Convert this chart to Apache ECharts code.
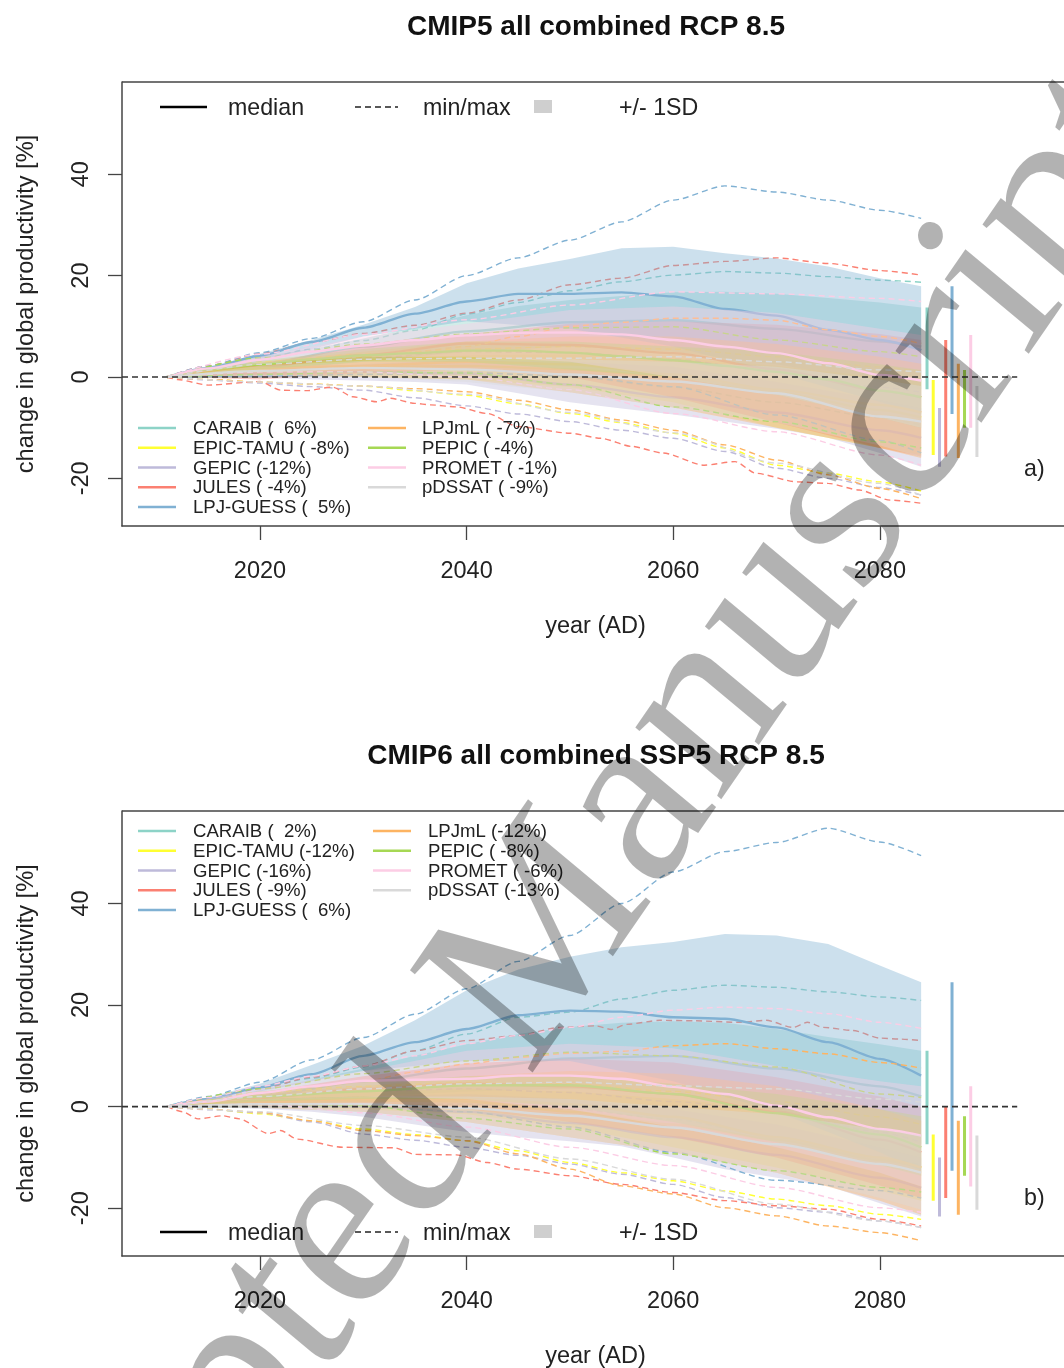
<!DOCTYPE html>
<html><head><meta charset="utf-8">
<style>html,body{margin:0;padding:0;background:#fff}#c{width:1064px;height:1368px}#c canvas{filter:blur(0.45px)}</style>
<script src="https://cdn.jsdelivr.net/npm/echarts@6/dist/echarts.min.js"></script>
</head><body><div id="c"></div>
<script>
const yearsFine=[2011,2015,2020,2025,2030,2035,2040,2045,2050,2055,2060,2065,2070,2075,2080,2084];
const yearsCoarse=[2011,2020,2030,2040,2050,2060,2070,2080,2084];
const yearsJulesMinA=[2011,2012,2015,2020,2022,2024.5,2027,2029,2031.3,2032.6,2035,2036.5,2039,2042,2045,2050,2053,2056,2059,2063,2066,2068,2072,2075,2078,2081,2084];
const yearsJulesMinB=[2011,2012.5,2014,2016.4,2018,2020.8,2022,2023.6,2028,2033,2035,2039,2042,2045,2050,2055,2060,2065,2070,2075,2080,2084];
const yearsJulesMaxB=[2011,2015,2020,2025,2030,2035,2040,2045,2049,2052.5,2054,2055.5,2058.7,2062,2066.4,2069,2071.6,2073,2074.5,2077.4,2080,2082,2084];
const models=['CARAIB','EPIC-TAMU','GEPIC','JULES','LPJ-GUESS','LPJmL','PEPIC','PROMET','pDSSAT'];
const colors=['#8dd3c7','#ffff33','#bebada','#fb8072','#80b1d3','#fdb462','#a6d854','#fccde5','#d9d9d9'];
const tableA=['CARAIB (  6%)','EPIC-TAMU ( -8%)','GEPIC (-12%)','JULES ( -4%)','LPJ-GUESS (  5%)','LPJmL ( -7%)','PEPIC ( -4%)','PROMET ( -1%)','pDSSAT ( -9%)'];
const tableB=['CARAIB (  2%)','EPIC-TAMU (-12%)','GEPIC (-16%)','JULES ( -9%)','LPJ-GUESS (  6%)','LPJmL (-12%)','PEPIC ( -8%)','PROMET ( -6%)','pDSSAT (-13%)'];
const xTicks=[2020,2040,2060,2080];
const yTicks=[-20,0,20,40];

// Panel a: each model has sd-low, sd-high, median, min, max
const A_CARAIB_lo=[0,1,3,5,6,5,2.5,-1,-2.4];
const A_CARAIB_hi=[0,2,4,5.5,7.6,9.8,12.2,14,15.2,16,16.7,16.8,16.4,15.6,14.7,13.7];
const A_CARAIB_med=[0,2.5,6,9,10.8,11.2,9.5,7,6];
const A_CARAIB_min=[0,0,.5,1,0,-2,-5,-8,-9.5];
const A_CARAIB_max=[0,1.8,3.6,5.5,7.2,9.2,12.4,14.7,17,18.8,20.1,20.8,20.5,19.8,19.1,18.7];
const A_EPIC_lo=[0,.3,0,-.5,-2,-5,-10,-14,-15.4];
const A_EPIC_hi=[0,2.5,3.5,4.3,4.5,3.8,2.2,0,-.6];
const A_EPIC_med=[0,1.5,2,2.2,1.5,0,-3,-6.5,-8];
const A_EPIC_min=[0,-.5,-1,-1.4,-1.8,-2.7,-3.6,-5.3,-7.2,-9,-11.1,-14,-17.4,-19,-20.7,-22.5];
const A_EPIC_max=[0,3,4.5,5.5,6,5.5,4,2,1];
const A_GEPIC_lo=[0,0,-.1,-.5,-.7,-1,-1.5,-3.2,-5,-6.2,-7.4,-8.8,-10.2,-12,-15,-17.7];
const A_GEPIC_hi=[0,1.5,2.5,3.5,3,2,-1,-4.5,-6.1];
const A_GEPIC_med=[0,.7,1,.7,-1.5,-4,-7,-10.5,-12];
const A_GEPIC_min=[0,-.6,-1.2,-1.9,-2.6,-4.1,-5.7,-7.3,-8.8,-10.5,-12.1,-14.7,-18,-20,-21.8,-23.3];
const A_GEPIC_max=[0,2.5,3.7,5,4.8,3.5,1,-2,-3];
const A_JULES_lo=[0,-.5,.8,1.5,0,-4,-9,-14,-15.7];
const A_JULES_hi=[0,2.7,6,8.5,10.5,11,10.3,8.5,7.3];
const A_JULES_med=[0,2,4.3,6.6,6.3,4.7,1.5,-2.7,-4];
const A_JULES_min=[0,-.5,-1.6,-.9,-2.6,-2.7,-2,-3.9,-4.9,-4.2,-5.2,-5.5,-5.9,-7.2,-9.8,-11.1,-12.1,-13.7,-15,-17.4,-16.7,-19,-20.7,-21,-22.3,-24.3,-24.9];
const A_JULES_max=[0,2.2,4.6,6.8,8.6,10.2,12.6,15.2,18.2,19.5,22,22.8,23.5,22.4,21,20.1];
const A_LPJG_lo=[0,3,8,11,9.5,6,.8,-4.9,-7.3];
const A_LPJG_hi=[0,2,4.6,7.3,10.3,13.8,18.5,21.4,23.3,25.4,25.7,24.4,23.4,21.8,19.5,17.9];
const A_LPJG_med=[0,1.8,4.2,6.9,9.7,12.5,14.9,16.4,16.4,16.7,15.9,13.4,12.1,9.3,7.3,5.3];
const A_LPJG_min=[0,.2,.5,.8,.2,-1.9,-7.5,-12.5,-15];
const A_LPJG_max=[0,2.2,4.8,7.6,10.9,15.2,20,23.5,27,30.6,34.9,37.7,36.5,34.9,32.9,31.3];
const A_LPJmL_lo=[0,.5,0,-.5,-3,-6,-10,-14,-16];
const A_LPJmL_hi=[0,3,5,7,8,8,6.5,4,2.6];
const A_LPJmL_med=[0,1.8,2.2,3,2.5,.5,-2.5,-5.5,-7];
const A_LPJmL_min=[0,-.5,-1,-1.4,-1.8,-2.3,-2.9,-4.6,-6.5,-8.5,-10.5,-13.4,-16.4,-19.3,-22,-24];
const A_LPJmL_max=[0,1.2,2.5,3.3,4,5,6,8,10,10.8,11.6,11.6,11.2,9.3,8,6.6];
const A_PEPIC_lo=[0,1.5,3,3,1.5,0,-3.5,-8,-10];
const A_PEPIC_hi=[0,3.2,5.5,7,7,6,5,2.5,1.4];
const A_PEPIC_med=[0,1.5,2.5,3.5,4.3,4.7,5.2,5.2,4.8,4.1,3.3,2.2,1,-.5,-2.7,-4];
const A_PEPIC_min=[0,.5,1,.8,-1.5,-5.9,-8.8,-12.8,-14];
const A_PEPIC_max=[0,3.8,6.5,8.5,9.7,9.9,7.3,5,4];
const A_PROMET_lo=[0,2.5,4,4,3,0,-3.5,-8,-10];
const A_PROMET_hi=[0,4,8,10.5,13.2,13.9,12.6,9.5,8.3];
const A_PROMET_med=[0,1.7,3.4,5,6.2,7.3,8.2,8.7,8.8,8.4,7.3,6,4.7,2.7,.4,-.7];
const A_PROMET_min=[0,1,1,0,-2.5,-7.2,-10.8,-15.4,-17.4];
const A_PROMET_max=[0,4.5,8.4,11.3,14.2,16.8,16.4,15.5,14.9];
const A_pDSSAT_lo=[0,.2,0,-1,-3,-6,-9,-13.5,-15.8];
const A_pDSSAT_hi=[0,2.2,3.2,3.5,3.5,3,2,-.5,-1.8];
const A_pDSSAT_med=[0,1.2,1.8,1.5,.5,-.9,-3.2,-7.8,-8.8];
const A_pDSSAT_min=[0,-1,-1.8,-3.4,-7,-11,-17,-21,-23.3];
const A_pDSSAT_max=[0,2.5,3.5,3.7,3.7,4,3,1.4,1];

// Panel b
const B_CARAIB_lo=[0,1,2,3,3.5,3,-1,-5.5,-7.4];
const B_CARAIB_hi=[0,1,3.3,5.3,7.5,10,12.3,14.3,15.7,16.5,16.8,16.5,15.3,13.7,12.3,11];
const B_CARAIB_med=[0,2,5,7.5,9.5,10,7.5,4,2];
const B_CARAIB_min=[0,0,.3,.5,-.5,-2.5,-6,-10,-11.5];
const B_CARAIB_max=[0,1.6,3.7,5.6,7.8,11,14.3,17.6,18.6,21.2,22.9,23.9,23.5,22.6,21.6,20.9];
const B_EPIC_lo=[0,0,-.5,-1.5,-4,-8,-12,-16.5,-18.5];
const B_EPIC_hi=[0,2,3,3.5,3,1.5,-.5,-4,-5.5];
const B_EPIC_med=[0,.8,1.2,1,-1,-3.5,-6.5,-10.5,-12];
const B_EPIC_min=[0,-.5,-1.4,-2.8,-4.4,-5.5,-6.7,-8.7,-11,-13,-14.6,-16.6,-18.2,-19.5,-21.2,-22.2];
const B_EPIC_max=[0,2.8,4,4.8,4.5,3,1,-2,-3.5];
const B_GEPIC_lo=[0,-.1,-.4,-1,-2,-3.5,-5,-6,-6.8,-7.8,-10,-12.3,-14,-15.6,-19,-21.6];
const B_GEPIC_hi=[0,1.6,2,2.5,1.5,-.5,-3.5,-8,-10];
const B_GEPIC_med=[0,.5,0,-1,-3.2,-6,-9.5,-14,-16];
const B_GEPIC_min=[0,-.6,-1.2,-3,-5.4,-6.6,-8,-9.6,-11.3,-13.3,-15.3,-17.9,-19.9,-20.8,-22.5,-23.8];
const B_GEPIC_max=[0,2.5,3,3.5,2.8,1,-1,-5,-7];
const B_JULES_lo=[0,.3,0,-.5,-3,-6,-10,-15.5,-18];
const B_JULES_hi=[0,2.8,6,8.5,9.5,8.7,5.8,2,0];
const B_JULES_med=[0,1.8,3.5,4.5,4,2.5,-1,-6.5,-9];
const B_JULES_min=[0,-1,-2.4,-1.8,-2.4,-5.3,-4.7,-6.4,-8,-8.1,-9.4,-9.5,-11,-12.3,-13.6,-15.3,-16.9,-18.5,-19.5,-20.2,-22.2,-23.5];
const B_JULES_max=[0,1.6,3.5,5.8,8,11,13,14,15.6,15.9,15.2,16.2,17,16.9,16.6,17,15.6,16.6,15.6,15,13.5,13.3,13];
const B_LPJG_lo=[0,3,7,9,9,5,-1,-9,-12.6];
const B_LPJG_hi=[0,1.8,4.5,8.2,12,17,22.9,27,29.5,31.4,32.4,34,33.7,32,27.8,24.5];
const B_LPJG_med=[0,1.5,3.8,6.4,10,12.7,15.3,18,18.9,18.7,17.6,17.3,15.6,12.7,9.4,6.1];
const B_LPJG_min=[0,0,0,-1,-4,-9,-14.5,-16.5,-18];
const B_LPJG_max=[0,2,4.8,9.2,13.6,18.2,23.2,28.6,33.7,40,46.2,50.2,52,54.8,52.1,49.4];
const B_LPJmL_lo=[0,-.2,-1,-3,-6,-9,-13,-18.5,-21.3];
const B_LPJmL_hi=[0,2.5,4,6,7,6.5,4,-.5,-2.8];
const B_LPJmL_med=[0,1,1.5,1.5,.5,-2,-6,-10,-12];
const B_LPJmL_min=[0,-.5,-1.1,-2.8,-4.7,-5.7,-6.7,-9.3,-12.3,-15.6,-17.2,-19.9,-21.5,-23.5,-24.8,-26.4];
const B_LPJmL_max=[0,1.3,2.7,3.8,5,6.8,8.4,9.7,10.5,10.9,12,12.4,11.4,10.4,8.7,7.6];
const B_PEPIC_lo=[0,1,1.5,1.5,0,-3,-7,-11.5,-13.6];
const B_PEPIC_hi=[0,3,4.8,6,6,4.5,2.5,-.5,-1.9];
const B_PEPIC_med=[0,2,3,4.2,4.2,2.5,-1.3,-5.5,-8];
const B_PEPIC_min=[0,.5,.2,-2.3,-4.4,-9.3,-12.6,-15.9,-16.8];
const B_PEPIC_max=[0,3.5,6.5,9,10.7,10,7.8,2.5,1.8];
const B_PROMET_lo=[0,1.5,2,1.5,-.5,-4,-8,-13,-15.7];
const B_PROMET_hi=[0,3.5,7,11,12.4,11.5,8,5,4];
const B_PROMET_med=[0,1,2.7,4,5.1,5.3,5.5,6.1,6.1,5.5,3.9,2.5,.2,-2.1,-4.4,-5.7];
const B_PROMET_min=[0,.5,-1.2,-4,-8,-11.6,-15.9,-19.9,-20.8];
const B_PROMET_max=[0,1.8,4,6,8,10,12.4,14,15.6,17.6,19,19.6,19.3,18.3,16.6,15.4];
const B_pDSSAT_lo=[0,-.3,-1,-3,-6,-9,-13,-18,-20.3];
const B_pDSSAT_hi=[0,1.5,2,2,1.5,0,-1.5,-4.5,-5.7];
const B_pDSSAT_med=[0,.5,.5,-.3,-1.8,-4.1,-7.4,-11.3,-13];
const B_pDSSAT_min=[0,-1,-3.7,-6,-10.3,-14.3,-19.2,-22.5,-23.8];
const B_pDSSAT_max=[0,2,3.5,4.5,4.8,4.1,3.5,1.5,.9];

const panelA=[
 [A_CARAIB_lo,A_CARAIB_hi,A_CARAIB_med,A_CARAIB_min,A_CARAIB_max],
 [A_EPIC_lo,A_EPIC_hi,A_EPIC_med,A_EPIC_min,A_EPIC_max],
 [A_GEPIC_lo,A_GEPIC_hi,A_GEPIC_med,A_GEPIC_min,A_GEPIC_max],
 [A_JULES_lo,A_JULES_hi,A_JULES_med,A_JULES_min,A_JULES_max],
 [A_LPJG_lo,A_LPJG_hi,A_LPJG_med,A_LPJG_min,A_LPJG_max],
 [A_LPJmL_lo,A_LPJmL_hi,A_LPJmL_med,A_LPJmL_min,A_LPJmL_max],
 [A_PEPIC_lo,A_PEPIC_hi,A_PEPIC_med,A_PEPIC_min,A_PEPIC_max],
 [A_PROMET_lo,A_PROMET_hi,A_PROMET_med,A_PROMET_min,A_PROMET_max],
 [A_pDSSAT_lo,A_pDSSAT_hi,A_pDSSAT_med,A_pDSSAT_min,A_pDSSAT_max]];
const panelB=[
 [B_CARAIB_lo,B_CARAIB_hi,B_CARAIB_med,B_CARAIB_min,B_CARAIB_max],
 [B_EPIC_lo,B_EPIC_hi,B_EPIC_med,B_EPIC_min,B_EPIC_max],
 [B_GEPIC_lo,B_GEPIC_hi,B_GEPIC_med,B_GEPIC_min,B_GEPIC_max],
 [B_JULES_lo,B_JULES_hi,B_JULES_med,B_JULES_min,B_JULES_max],
 [B_LPJG_lo,B_LPJG_hi,B_LPJG_med,B_LPJG_min,B_LPJG_max],
 [B_LPJmL_lo,B_LPJmL_hi,B_LPJmL_med,B_LPJmL_min,B_LPJmL_max],
 [B_PEPIC_lo,B_PEPIC_hi,B_PEPIC_med,B_PEPIC_min,B_PEPIC_max],
 [B_PROMET_lo,B_PROMET_hi,B_PROMET_med,B_PROMET_min,B_PROMET_max],
 [B_pDSSAT_lo,B_pDSSAT_hi,B_pDSSAT_med,B_pDSSAT_min,B_pDSSAT_max]];
const barYears=[2084.57,2085.17,2085.78,2086.38,2086.99,2087.6,2088.2,2088.8,2089.4];
const zeroSpan=[2006.64,2093.3];

const FONT='"Liberation Sans", Arial, sans-serif';
const INK='#222';
const FRAME='#444';
const ownYears=new Map([[A_JULES_min,yearsJulesMinA],[B_JULES_min,yearsJulesMinB],[B_JULES_max,yearsJulesMaxB]]);
const pairs=v=>{const ys=ownYears.get(v)||(v.length===yearsFine.length?yearsFine:yearsCoarse);return v.map((d,i)=>[ys[i],d]);};

function panelSeries(table,p){
  const out=[];
  table.forEach((m,i)=>{
    const c=colors[i];
    const pts=pairs(m[1]).concat(pairs(m[0]).reverse());
    out.push({type:'custom',name:models[i]+' SD',coordinateSystem:'cartesian2d',xAxisIndex:p,yAxisIndex:p,z:2+i*2,
      data:pts,encode:{x:0,y:1},silent:true,
      renderItem:(params,api)=>params.dataIndex?null:{type:'polygon',shape:{points:pts.map(q=>api.coord(q))},style:{fill:c,opacity:0.4}}});
    const line=(v,nm,w,dash)=>({type:'line',name:models[i]+' '+nm,xAxisIndex:p,yAxisIndex:p,data:pairs(v),showSymbol:false,silent:true,z:3+i*2,
      smooth:0.25,smoothMonotone:'x',lineStyle:{color:c,width:w,type:dash?[6,4]:'solid'}});
    out.push(line(m[2],'median',2.4,false),line(m[3],'min',1.4,true),line(m[4],'max',1.4,true));
  });
  table.forEach((m,i)=>{
    out.push({type:'line',name:models[i]+' range',xAxisIndex:p,yAxisIndex:p,showSymbol:false,silent:true,
      data:[[barYears[i],m[0][m[0].length-1]],[barYears[i],m[1][m[1].length-1]]],
      lineStyle:{color:colors[i],width:3},z:22});
  });
  out.push({type:'line',name:'zero',xAxisIndex:p,yAxisIndex:p,showSymbol:false,silent:true,z:23,
    data:[[zeroSpan[0],0],[zeroSpan[1],0]],lineStyle:{color:'#333',width:1.6,type:[6,4]}});
  return out;
}

function legendEls(labels,x1,t1,x2,t2,y0,yTop){
  const els=[];
  labels.forEach((s,i)=>{
    const col2=i>=5,k=col2?i-5:i,y=y0+k*19.75,lx=col2?x2:x1,tx=col2?t2:t1;
    els.push({type:'line',z:50,silent:true,shape:{x1:lx,y1:y,x2:lx+38,y2:y},style:{stroke:colors[i],lineWidth:2.4}});
    els.push({type:'text',z:50,silent:true,x:tx,y:y+1,style:{text:s,font:'18.6px '+FONT,fill:INK,textVerticalAlign:'middle'}});
  });
  const T=(s,x)=>({type:'text',z:50,silent:true,x:x,y:yTop+2,style:{text:s,font:'23.2px '+FONT,fill:INK,textVerticalAlign:'middle'}});
  els.push({type:'line',z:50,silent:true,shape:{x1:160,y1:yTop,x2:207,y2:yTop},style:{stroke:'#000',lineWidth:2.6}});
  els.push(T('median',228));
  els.push({type:'line',z:50,silent:true,shape:{x1:355,y1:yTop,x2:398,y2:yTop},style:{stroke:'#222',lineWidth:1.3,lineDash:[6,4]}});
  els.push(T('min/max',423));
  els.push({type:'rect',z:50,silent:true,shape:{x:534,y:yTop-7,width:18,height:13},style:{fill:'#cfcfcf'}});
  els.push(T('+/- 1SD',619));
  return els;
}

const frameLine={show:true,onZero:false,lineStyle:{color:FRAME,width:1.5}};
const mkX=(g)=>({type:'value',gridIndex:g,min:2006.64,max:2097.83,splitLine:{show:false},axisLine:frameLine,
  name:'year (AD)',nameLocation:'middle',nameGap:89,nameTextStyle:{fontFamily:FONT,fontSize:23.5,color:INK,padding:[0,0,0,5]},
  axisTick:{show:true,length:14,lineStyle:{color:FRAME,width:1.3},customValues:xTicks},
  axisLabel:{margin:34,fontFamily:FONT,fontSize:23.5,color:INK,customValues:xTicks,formatter:v=>String(v)}});
const mkY=(g)=>({type:'value',gridIndex:g,min:-29.4,max:58.2,splitLine:{show:false},axisLine:frameLine,
  name:'change in global productivity [%]',nameLocation:'middle',nameGap:84,nameRotate:90,nameTextStyle:{fontFamily:FONT,fontSize:23.6,color:INK},
  axisTick:{show:true,length:14,lineStyle:{color:FRAME,width:1.3},customValues:yTicks},
  axisLabel:{rotate:90,margin:28,fontFamily:FONT,fontSize:23.5,color:INK,customValues:yTicks}});

const option={
  animation:false,backgroundColor:'#fff',
  title:[
   {text:'CMIP5 all combined RCP 8.5',left:591,top:8,textAlign:'center',textStyle:{fontFamily:FONT,fontSize:28,fontWeight:'bold',color:'#111'}},
   {text:'CMIP6 all combined SSP5 RCP 8.5',left:591,top:737,textAlign:'center',textStyle:{fontFamily:FONT,fontSize:28,fontWeight:'bold',color:'#111'}}],
  grid:[
   {left:122,top:82,width:942,height:444,show:false,outerBoundsMode:'none'},
   {left:122,top:811,width:942,height:445,show:false,outerBoundsMode:'none'}],
  xAxis:[mkX(0),mkX(1)],yAxis:[mkY(0),mkY(1)],
  series:[...panelSeries(panelA,0),...panelSeries(panelB,1)],
  graphic:{elements:[
   {type:'line',z:1,silent:true,shape:{x1:122,y1:82,x2:1064,y2:82},style:{stroke:FRAME,lineWidth:1.5}},
   {type:'line',z:1,silent:true,shape:{x1:122,y1:811,x2:1064,y2:811},style:{stroke:FRAME,lineWidth:1.5}},
   ...legendEls(tableA,138,193,368,422,428,107),
   ...legendEls(tableB,138,193,373,428,831,1232),
   {type:'text',z:50,silent:true,x:1024,y:470,style:{text:'a)',font:'23.2px '+FONT,fill:INK,textVerticalAlign:'middle'}},
   {type:'text',z:50,silent:true,x:1024,y:1199,style:{text:'b)',font:'23.2px '+FONT,fill:INK,textVerticalAlign:'middle'}},
   {type:'group',x:517,y:983,scaleY:1.1,silent:true,z:100,children:[
     {type:'text',z:100,silent:true,rotation:52.8*Math.PI/180,style:{text:'Accepted Manuscript',font:'235px "Liberation Serif", serif',fill:'rgba(0,0,0,0.3)',textAlign:'center',textVerticalAlign:'middle'}}]}
  ]}
};
echarts.init(document.getElementById('c'),null,{renderer:'canvas'}).setOption(option);
</script></body></html>
